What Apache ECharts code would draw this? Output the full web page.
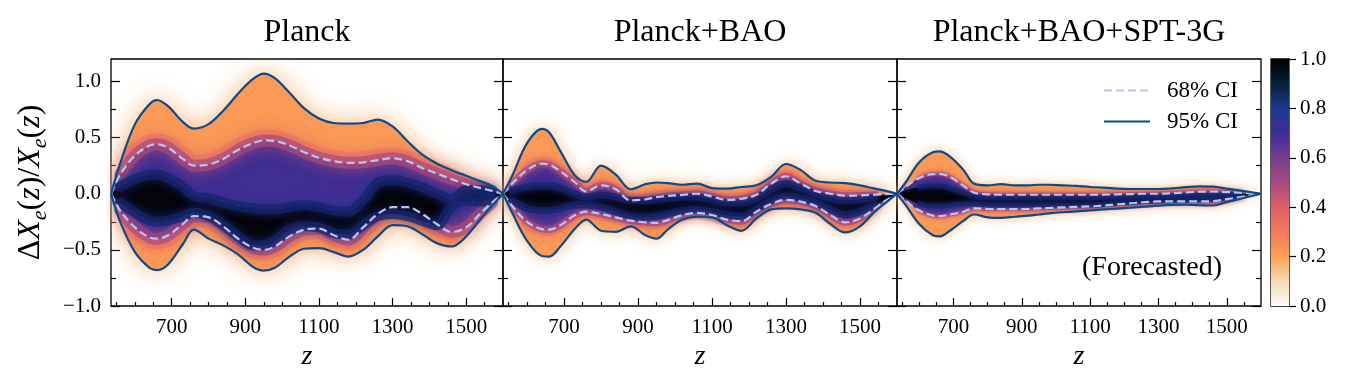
<!DOCTYPE html>
<html>
<head>
<meta charset="utf-8">
<script src="https://cdn.jsdelivr.net/npm/echarts@6/dist/echarts.min.js"></script>
<style>
  html, body { margin: 0; padding: 0; background: #fff; }
  #chart { width: 1359px; height: 380px; }
</style>
</head>
<body>
<div id="chart"></div>
<script>
// ─── data ───────────────────────────────────────────────────
const zGrid = [535, 560, 600, 640, 660, 690, 730, 760, 800, 840, 880, 920, 950, 980, 1020,
               1060, 1100, 1140, 1180, 1220, 1260, 1300, 1340, 1380, 1420, 1460, 1500, 1540, 1570, 1600]

// Planck
const planckHi95 = [0, 0.27, 0.62, 0.80, 0.835, 0.78, 0.64, 0.58, 0.62, 0.74, 0.89, 1.02, 1.07, 1.03, 0.90,
                    0.76, 0.67, 0.63, 0.625, 0.63, 0.66, 0.60, 0.47, 0.35, 0.27, 0.21, 0.16, 0.11, 0.07, 0]
const planckLo95 = [0, -0.25, -0.52, -0.66, -0.68, -0.63, -0.45, -0.32, -0.40, -0.46, -0.54, -0.65, -0.685, -0.66, -0.56,
                    -0.49, -0.485, -0.52, -0.56, -0.50, -0.38, -0.28, -0.29, -0.36, -0.44, -0.47, -0.38, -0.22, -0.11, 0]
const planckHi68 = [0, 0.17, 0.34, 0.43, 0.44, 0.41, 0.31, 0.25, 0.26, 0.31, 0.39, 0.45, 0.475, 0.47, 0.43,
                    0.37, 0.32, 0.29, 0.275, 0.28, 0.30, 0.315, 0.29, 0.23, 0.18, 0.13, 0.085, 0.05, 0.025, 0]
const planckLo68 = [0, -0.15, -0.30, -0.39, -0.40, -0.37, -0.27, -0.20, -0.21, -0.29, -0.40, -0.48, -0.50, -0.47, -0.38,
                    -0.32, -0.31, -0.37, -0.41, -0.30, -0.18, -0.12, -0.12, -0.18, -0.27, -0.34, -0.30, -0.17, -0.08, 0]
const planckCoreHi = [0, 0.06, 0.13, 0.17, 0.17, 0.14, 0.06, -0.02, -0.04, -0.08, -0.11, -0.13, -0.14, -0.14, -0.12,
                      -0.10, -0.12, -0.15, -0.16, -0.06, 0.10, 0.12, 0.10, 0.06, 0.0, -0.05, 0.03, 0.03, 0.02, 0]
const planckCoreLo = [0, -0.08, -0.17, -0.24, -0.25, -0.24, -0.20, -0.17, -0.20, -0.28, -0.38, -0.46, -0.46, -0.42, -0.32,
                      -0.29, -0.30, -0.35, -0.36, -0.28, -0.20, -0.18, -0.20, -0.24, -0.28, -0.12, -0.06, -0.07, -0.04, 0]

// Planck+BAO
const baoHi95 = [0, 0.16, 0.45, 0.578, 0.545, 0.38, 0.16, 0.105, 0.25, 0.17, 0.04, 0.085, 0.10, 0.095, 0.08,
                 0.09, 0.05, 0.045, 0.06, 0.075, 0.15, 0.265, 0.21, 0.115, 0.10, 0.095, 0.075, 0.045, 0.025, 0]
const baoLo95 = [0, -0.17, -0.42, -0.555, -0.56, -0.47, -0.31, -0.23, -0.33, -0.34, -0.29, -0.37, -0.40, -0.32, -0.23,
                 -0.205, -0.21, -0.28, -0.33, -0.22, -0.14, -0.13, -0.14, -0.17, -0.27, -0.345, -0.29, -0.16, -0.08, 0]
const baoHi68 = [0, 0.09, 0.21, 0.268, 0.26, 0.20, 0.10, 0.02, 0.075, 0.04, -0.06, -0.05, -0.03, -0.02, -0.01,
                 0.0, -0.025, -0.054, -0.045, -0.01, 0.09, 0.155, 0.09, 0.025, 0.0, -0.018, -0.015, -0.008, -0.004, 0]
const baoLo68 = [0, -0.11, -0.25, -0.315, -0.32, -0.28, -0.19, -0.16, -0.18, -0.21, -0.24, -0.255, -0.26, -0.235, -0.19,
                 -0.17, -0.19, -0.23, -0.245, -0.16, -0.09, -0.055, -0.07, -0.11, -0.19, -0.255, -0.22, -0.13, -0.06, 0]
const baoCoreHi = [0, 0.03, 0.06, 0.07, 0.07, 0.05, 0.0, -0.03, -0.01, -0.03, -0.06, -0.06, -0.05, -0.04, -0.03,
                   -0.03, -0.05, -0.08, -0.08, -0.04, 0.04, 0.09, 0.05, 0.0, -0.04, -0.06, -0.05, -0.03, -0.01, 0]
const baoCoreLo = [0, -0.06, -0.13, -0.15, -0.15, -0.13, -0.10, -0.10, -0.12, -0.16, -0.20, -0.21, -0.20, -0.18, -0.15,
                   -0.14, -0.16, -0.19, -0.20, -0.14, -0.06, -0.02, -0.04, -0.08, -0.14, -0.19, -0.16, -0.10, -0.05, 0]

// Planck+BAO+SPT-3G (forecast)
const sptHi95 = [0, 0.10, 0.28, 0.37, 0.378, 0.33, 0.21, 0.09, 0.075, 0.085, 0.075, 0.075, 0.08, 0.08, 0.075,
                 0.07, 0.06, 0.055, 0.045, 0.042, 0.042, 0.042, 0.048, 0.058, 0.065, 0.063, 0.045, 0.028, 0.014, 0]
const sptLo95 = [0, -0.10, -0.27, -0.37, -0.38, -0.33, -0.24, -0.185, -0.21, -0.215, -0.205, -0.195, -0.185, -0.175, -0.165,
                 -0.157, -0.149, -0.14, -0.132, -0.124, -0.115, -0.106, -0.10, -0.098, -0.102, -0.105, -0.075, -0.045, -0.022, 0]
const sptHi68 = [0, 0.06, 0.14, 0.175, 0.176, 0.15, 0.07, 0.01, -0.005, -0.008, -0.009, -0.009, -0.009, -0.009, -0.009,
                 -0.009, -0.009, -0.008, -0.005, -0.003, 0.0, 0.0, 0.005, 0.012, 0.018, 0.02, 0.015, 0.009, 0.004, 0]
const sptLo68 = [0, -0.06, -0.15, -0.195, -0.20, -0.185, -0.16, -0.13, -0.135, -0.137, -0.137, -0.135, -0.13, -0.127, -0.122,
                 -0.117, -0.113, -0.105, -0.095, -0.085, -0.075, -0.068, -0.068, -0.068, -0.068, -0.066, -0.048, -0.03, -0.015, 0]
const sptCoreHi = [0, 0.03, 0.06, 0.07, 0.07, 0.05, 0.01, -0.02, -0.035, -0.035, -0.035, -0.035, -0.035, -0.035, -0.035,
                   -0.035, -0.035, -0.033, -0.03, -0.028, -0.025, -0.022, -0.02, -0.018, -0.015, -0.015, -0.01, -0.005, 0, 0]
const sptCoreLo = [0, -0.04, -0.09, -0.11, -0.11, -0.10, -0.09, -0.09, -0.10, -0.10, -0.10, -0.10, -0.10, -0.10, -0.10,
                   -0.10, -0.10, -0.095, -0.085, -0.078, -0.07, -0.065, -0.06, -0.058, -0.055, -0.05, -0.035, -0.02, -0.01, 0]

const panelTitles = ['Planck', 'Planck+BAO', 'Planck+BAO+SPT-3G']
const xMajor = [700, 900, 1100, 1300, 1500]
const xMinor = [550, 600, 650, 750, 800, 850, 950, 1000, 1050, 1150, 1200, 1250, 1350, 1400, 1450, 1550]
const yMajor = [-1, -0.5, 0, 0.5, 1]
const yMinor = [-0.75, -0.25, 0.25, 0.75]
const cbarTicks = [0, 0.2, 0.4, 0.6, 0.8, 1.0]

// colormap of the colorbar (0 → 1)
const cmapStops  = [0, 0.1, 0.2, 0.3, 0.4, 0.5, 0.6, 0.7, 0.8, 0.9, 1.0]
const cmapColors = ['#fcfbf7', '#f5dcb4', '#fd9f55', '#f47a5d', '#de6069', '#a8497f',
                    '#763f8e', '#3e2c9b', '#1a3b8e', '#07213c', '#000000']

// ─── layout / style ─────────────────────────────────────────
const FONT = '"Liberation Serif", "DejaVu Serif", serif'
// 每個面板的位置與柔化寬度
// edge = 邊界漸層線使用的資料索引範圍（避開兩端尖點），salmon = 外側鮭魚紅漸層的範圍
const panels = [
  { left: 111, width: 392, hi95: planckHi95, lo95: planckLo95, hi68: planckHi68, lo68: planckLo68,
    coreHi: planckCoreHi, coreLo: planckCoreLo, halo: 26, mid: 12, core: 10, edge: [1, 28], salmon: [2, 25] },
  { left: 503, width: 394, hi95: baoHi95, lo95: baoLo95, hi68: baoHi68, lo68: baoLo68,
    coreHi: baoCoreHi, coreLo: baoCoreLo, halo: 16, mid: 7, core: 7, edge: [1, 27], salmon: [2, 26] },
  { left: 897, width: 364, hi95: sptHi95, lo95: sptLo95, hi68: sptHi68, lo68: sptLo68,
    coreHi: sptCoreHi, coreLo: sptCoreLo, halo: 12, mid: 4, core: 5, edge: [2, 27], salmon: [2, 26] },
]
const TOP = 59, HEIGHT = 247

const grids = [], xAxes = [], yAxes = [], series = []

const tickStyle = { color: '#000', width: 1.2 }
const minus = v => String(v).replace('-', '\u2212')

// 帶狀區域：用 stack 疊出上下界之間的填色
// 資料欄位順序為 [值, z]，讓 stack 疊在 y 方向而不是 z 方向
const band = (gi, key, lo, hi, fill, zz) => {
  const common = {
    type: 'line', xAxisIndex: 2 * gi, yAxisIndex: 4 * gi, stack: key, stackStrategy: 'all',
    encode: { x: 1, y: 0 }, symbol: 'none', smooth: 0.35, silent: true, z: zz, lineStyle: { opacity: 0 },
  }
  series.push({ ...common, name: key + 'lo', data: zGrid.map((z0, i) => [lo[i], z0]) })
  series.push({ ...common, name: key + 'hi', data: zGrid.map((z0, i) => [hi[i] - lo[i], z0]), areaStyle: fill })
}

// 邊界上的模糊寬線，做出兩帶之間的顏色漸層
const edge = (gi, vals, range, style, zz) => {
  const idx = zGrid.map((_, i) => i).filter(i => i >= range[0] && i <= range[1])
  series.push({
    type: 'line', xAxisIndex: 2 * gi, yAxisIndex: 4 * gi, symbol: 'none', smooth: 0.35, silent: true, z: zz,
    lineStyle: { cap: 'round', ...style }, data: idx.map(i => [zGrid[i], vals[i]]),
  })
}

const ciLine = (gi, name, vals, style, zz) => {
  series.push({
    type: 'line', name, xAxisIndex: 2 * gi, yAxisIndex: 4 * gi, symbol: 'none', smooth: 0.35,
    silent: true, z: zz, lineStyle: style, itemStyle: { color: style.color },
    data: zGrid.map((z0, i) => [z0, vals[i]]),
  })
}

panels.forEach((p, gi) => {
  grids.push({ left: p.left, top: TOP, width: p.width, height: HEIGHT, show: true,
               borderColor: '#000', borderWidth: 1.3, backgroundColor: 'transparent' })

  // x: major (with labels) + minor ticks
  xAxes.push({
    type: 'value', gridIndex: gi, min: 535, max: 1600, position: 'bottom',
    axisLine: { show: false, onZero: false }, splitLine: { show: false },
    axisTick: { show: true, inside: true, length: 8, customValues: xMajor, lineStyle: tickStyle },
    axisLabel: { show: true, customValues: xMajor, margin: 11, fontFamily: FONT, fontSize: 21, color: '#000',
                 formatter: v => String(v) },
    name: 'z', nameLocation: 'middle', nameGap: 28,
    nameTextStyle: { fontFamily: FONT, fontStyle: 'italic', fontSize: 28, color: '#000' },
  })
  xAxes.push({
    type: 'value', gridIndex: gi, min: 535, max: 1600, position: 'bottom',
    axisLine: { show: false, onZero: false }, splitLine: { show: false }, axisLabel: { show: false },
    axisTick: { show: true, inside: true, length: 4, customValues: xMinor, lineStyle: tickStyle },
  })

  // y: left major / minor, right major / minor
  const yBase = { type: 'value', gridIndex: gi, min: -1, max: 1.2,
                  axisLine: { show: false, onZero: false }, splitLine: { show: false } }
  yAxes.push({
    ...yBase, position: 'left',
    axisTick: { show: true, inside: true, length: 9, customValues: yMajor, lineStyle: tickStyle },
    axisLabel: { show: gi === 0, customValues: yMajor, margin: 10, fontFamily: FONT, fontSize: 21, color: '#000',
                 formatter: v => minus(v.toFixed(1)) },
    name: gi === 0 ? '{d|Δ}{i|X}{s|e}{n|(}{i|z}{n|)/}{i|X}{s|e}{n|(}{i|z}{n|)}' : '',
    nameLocation: 'middle', nameGap: 60, nameRotate: 90,
    nameTextStyle: {
      color: '#000',
      rich: {
        d: { fontFamily: FONT, fontSize: 32, lineHeight: 41, verticalAlign: 'middle', color: '#000' },
        i: { fontFamily: FONT, fontSize: 32, fontStyle: 'italic', lineHeight: 41, verticalAlign: 'middle', color: '#000' },
        n: { fontFamily: FONT, fontSize: 32, lineHeight: 41, verticalAlign: 'middle', color: '#000' },
        s: { fontFamily: FONT, fontSize: 22, fontStyle: 'italic', lineHeight: 22, verticalAlign: 'bottom', color: '#000' },
      },
    },
  })
  yAxes.push({ ...yBase, position: 'left', axisLabel: { show: false },
    axisTick: { show: true, inside: true, length: 5, customValues: yMinor, lineStyle: tickStyle } })
  yAxes.push({ ...yBase, position: 'right', axisLabel: { show: false },
    axisTick: { show: true, inside: true, length: 9, customValues: yMajor, lineStyle: tickStyle } })
  yAxes.push({ ...yBase, position: 'right', axisLabel: { show: false },
    axisTick: { show: true, inside: true, length: 5, customValues: yMinor, lineStyle: tickStyle } })

  // 密度帶：外圍 95%（帶光暈）→ 68% → 核心
  band(gi, 'b95_' + gi, p.lo95, p.hi95,
       { color: '#fb9957', opacity: 1, shadowBlur: p.halo, shadowColor: 'rgba(250,178,115,0.95)' }, 2)

  // 68% 外側：橘 → 鮭魚紅
  const salmon = { color: 'rgba(236,112,96,0.45)', width: p.mid * 1.8, shadowBlur: p.mid * 1.2,
                   shadowColor: 'rgba(236,112,96,0.55)' }
  edge(gi, p.hi68, p.salmon, salmon, 2.5)
  edge(gi, p.lo68, p.salmon, salmon, 2.5)

  band(gi, 'b68_' + gi, p.lo68, p.hi68, { color: '#402e93', opacity: 1 }, 3)

  // 68% 邊界：紫紅
  const mauve = { color: 'rgba(170,72,126,0.7)', width: p.mid, shadowBlur: p.mid * 1.2,
                  shadowColor: 'rgba(200,86,116,0.85)' }
  edge(gi, p.hi68, p.edge, mauve, 3.5)
  edge(gi, p.lo68, p.edge, mauve, 3.5)

  band(gi, 'core_' + gi, p.coreLo, p.coreHi, { color: '#04040b', opacity: 1 }, 4)

  // 核心邊界：深藍
  const navy = { color: 'rgba(22,36,105,0.75)', width: p.core, shadowBlur: p.core,
                 shadowColor: 'rgba(32,48,140,0.9)' }
  edge(gi, p.coreHi, p.edge, navy, 4.5)
  edge(gi, p.coreLo, p.edge, navy, 4.5)

  const solid = { color: '#0c4b8a', width: 2.2 }
  const dash  = { color: '#b4c6ef', width: 2.2, type: [8, 4] }
  ciLine(gi, '68% CI', p.hi68, dash, 6)
  ciLine(gi, '68% CI', p.lo68, dash, 6)
  ciLine(gi, '95% CI', p.hi95, solid, 7)
  ciLine(gi, '95% CI', p.lo95, solid, 7)
})

// ─── colorbar ───────────────────────────────────────────────
grids.push({ left: 1271, top: TOP, width: 18, height: HEIGHT, show: true,
             borderColor: '#000', borderWidth: 1.3, backgroundColor: 'transparent' })
xAxes.push({ type: 'category', gridIndex: 3, data: ['c'], show: false })
yAxes.push({
  type: 'value', gridIndex: 3, min: 0, max: 1, position: 'right',
  axisLine: { show: false }, splitLine: { show: false },
  axisTick: { show: true, length: 7, customValues: cbarTicks, lineStyle: tickStyle },
  axisLabel: { show: true, customValues: cbarTicks, margin: 11, fontFamily: FONT, fontSize: 21, color: '#000',
               formatter: v => v.toFixed(1) },
})
series.push({
  type: 'bar', xAxisIndex: 6, yAxisIndex: 12, data: [1], barWidth: '100%', silent: true,
  itemStyle: { color: new echarts.graphic.LinearGradient(0, 1, 0, 0,
    cmapStops.map((s, i) => ({ offset: s, color: cmapColors[i] }))) },
})

const chart = echarts.init(document.getElementById('chart'), null, { renderer: 'canvas' })
chart.setOption({
  backgroundColor: '#fff',
  animation: false,
  grid: grids,
  xAxis: xAxes,
  yAxis: yAxes,
  series,
  legend: {
    data: ['68% CI', '95% CI'], orient: 'vertical', left: 1098, top: 74, z: 20,
    itemWidth: 46, itemHeight: 14, itemGap: 8, selectedMode: false,
    itemStyle: { opacity: 0 },
    textStyle: { fontFamily: FONT, fontSize: 23, color: '#000', padding: [0, 0, 0, 12] },
  },
  graphic: [
    ...panelTitles.map((t, i) => ({
      type: 'text', x: panels[i].left + panels[i].width / 2, y: 33, silent: true,
      style: { text: t, fontFamily: FONT, fontSize: 32, fill: '#000', align: 'center', verticalAlign: 'middle' },
    })),
    { type: 'text', x: 1152, y: 268, silent: true, z: 20,
      style: { text: '(Forecasted)', fontFamily: FONT, fontSize: 28, fill: '#000', align: 'center', verticalAlign: 'middle' } },
  ],
})
</script>
</body>
</html>
